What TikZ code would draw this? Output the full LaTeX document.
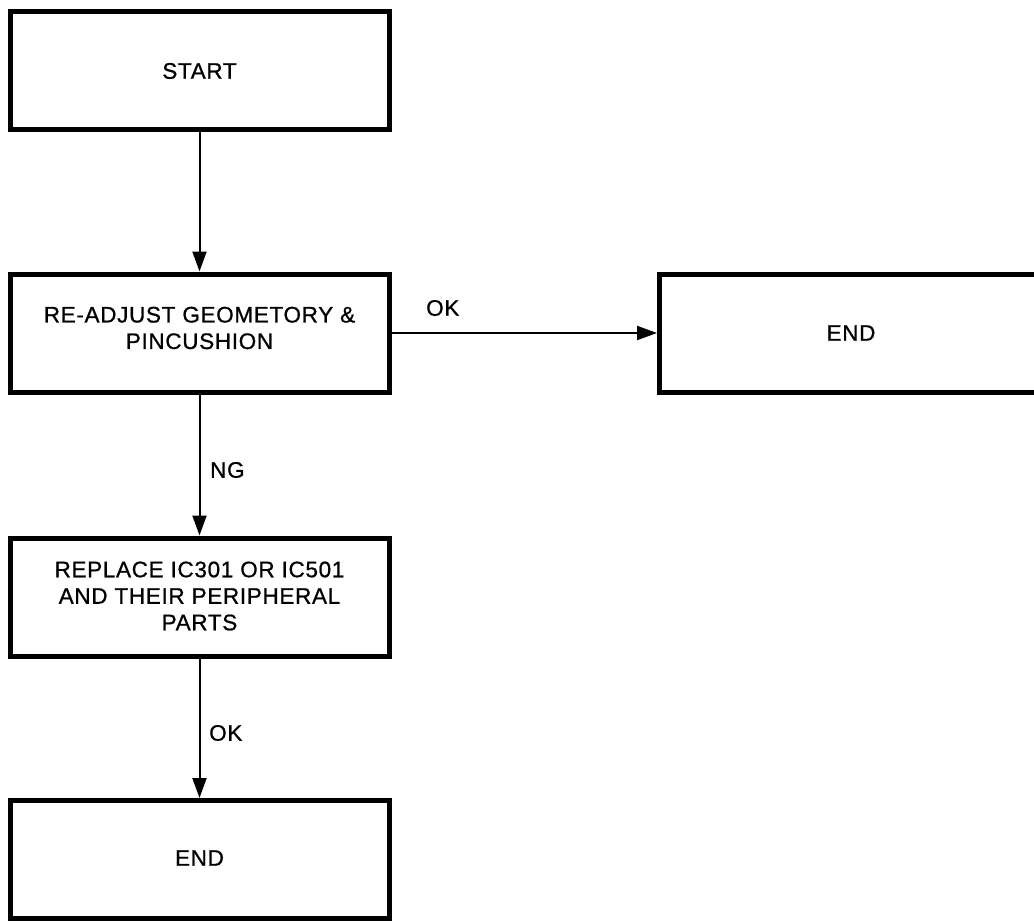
\documentclass[tikz,border=0pt]{standalone}
\usepackage{fontspec}
\setmainfont[LetterSpace=3,FakeBold=0.8]{Liberation Sans}
\usetikzlibrary{arrows.meta}
\begin{document}
\begin{tikzpicture}[x=1pt,y=-1pt,
  box/.style={draw, line width=5pt, minimum width=379pt, minimum height=118pt,
    inner sep=0pt},
  txt/.style={align=center, inner sep=0pt, font=\fontsize{22.5}{26.5}\selectfont},
  flow/.style={line width=2pt, -{Triangle[length=20pt,width=14pt]}},
  lbl/.style={anchor=west, inner sep=0pt, font=\fontsize{22.5}{26}\selectfont}]
\useasboundingbox (0,0) rectangle (1034,921);

% process boxes
\node[box] (start) at (199.5,70) {};
\node[txt] (starttxt) at (199.5,71) {START};

\node[box] (adjust) at (199.5,333) {};
\node[txt] (adjusttxt) at (199.5,328) {RE-ADJUST GEOMETORY \&\\PINCUSHION};

\node[box] (endr) at (849,333) {};
\node[txt] (endrtxt) at (851,333) {END};

\node[box] (replace) at (199.5,597) {};
\node[txt] (replacetxt) at (199.5,596) {REPLACE IC301 OR IC501\\AND THEIR PERIPHERAL\\PARTS};

\node[box] (endb) at (199.5,859.5) {};
\node[txt] (endbtxt) at (199.5,858) {END};

% connectors
\draw[flow] (start) -- (adjust);
\draw[flow] (adjust.east) -- (endr.west);
\draw[flow] (adjust) -- (replace);
\draw[flow] (replace) -- (endb);

% branch labels
\node[lbl] (okright) at (426,308) {OK};
\node[lbl] (ng) at (210,470) {NG};
\node[lbl] (okdown) at (209,733) {OK};
\end{tikzpicture}
\end{document}
